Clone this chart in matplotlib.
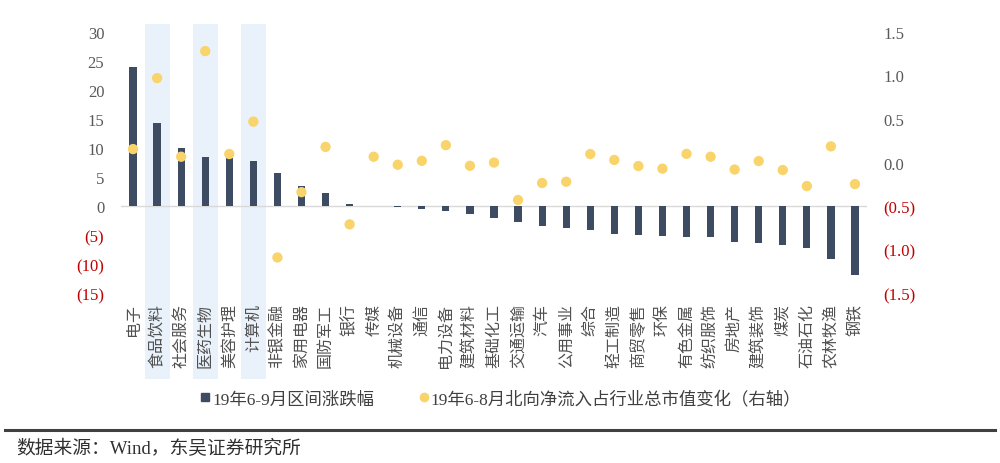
import matplotlib
matplotlib.use("Agg")
import matplotlib.pyplot as plt
from matplotlib.patches import Rectangle
from matplotlib.lines import Line2D

industries = ["电子", "食品饮料", "社会服务", "医药生物", "美容护理", "计算机", "非银金融",
              "家用电器", "国防军工", "银行", "传媒", "机械设备", "通信", "电力设备",
              "建筑材料", "基础化工", "交通运输", "汽车", "公用事业", "综合", "轻工制造",
              "商贸零售", "环保", "有色金属", "纺织服饰", "房地产", "建筑装饰", "煤炭",
              "石油石化", "农林牧渔", "钢铁"]
# 19年6-9月区间涨跌幅 (%)
price_chg = [24.0, 14.3, 10.0, 8.4, 8.2, 7.8, 5.7, 3.4, 2.2, 0.4, -0.05, -0.1, -0.5,
             -0.8, -1.4, -2.0, -2.8, -3.4, -3.85, -4.1, -4.8, -4.9, -5.1, -5.3, -5.3,
             -6.15, -6.4, -6.7, -7.3, -9.1, -11.8]
# 19年6-8月北向净流入占行业总市值变化 (右轴)
north_flow = [0.155, 0.97, 0.067, 1.28, 0.098, 0.47, -1.09, -0.34, 0.18, -0.71, 0.067,
              -0.025, 0.02, 0.2, -0.037, 0.0, -0.43, -0.235, -0.22, 0.098, 0.03, -0.04,
              -0.07, 0.1, 0.067, -0.08, 0.017, -0.086, -0.27, 0.186, -0.247]
highlight = ["食品饮料", "医药生物", "计算机"]

left_ticks = [-15, -10, -5, 0, 5, 10, 15, 20, 25, 30]
left_labels = ["(15)", "(10)", "(5)", "0", "5", "10", "15", "20", "25", "30"]
right_ticks = [-1.5, -1.0, -0.5, 0.0, 0.5, 1.0, 1.5]
right_labels = ["(1.5)", "(1.0)", "(0.5)", "0.0", "0.5", "1.0", "1.5"]

BAR = "#3d4b63"
DOT = "#f9d46b"
GREY = "#595959"
RED = "#c00000"
NUM_FONT = ["Liberation Serif", "Noto Sans CJK SC"]
CJK_FONT = ["Noto Sans CJK SC", "DejaVu Sans"]

fig = plt.figure(figsize=(10, 4.64), dpi=100)
ax = fig.add_axes([0.121, 0.366, 0.746, 0.563])
ax2 = ax.twinx()

x = list(range(len(industries)))

for name in highlight:
    i = industries.index(name)
    ax.add_patch(Rectangle((i - 0.52, -0.33), 1.04, 1.361,
                           transform=ax.get_xaxis_transform(), clip_on=False,
                           facecolor="#e9f1fa", edgecolor="none", zorder=0))

ax.axhline(0, color="#d9d9d9", lw=1, zorder=1)
ax.bar(x, price_chg, width=0.3, color=BAR, zorder=2)
ax2.scatter(x, north_flow, s=55, color=DOT, zorder=3, edgecolors="none")

ax.set_xlim(-0.5, 30.5)
ax.set_ylim(-15, 30)
ax2.set_ylim(-1.5, 1.5)

ax.set_yticks(left_ticks)
ax.set_yticklabels(left_labels, family=NUM_FONT, fontsize=12)
for t, v in zip(ax.get_yticklabels(), left_ticks):
    t.set_color(RED if v < 0 else GREY)
ax2.set_yticks(right_ticks)
ax2.set_yticklabels(right_labels, family=NUM_FONT, fontsize=12)
for t, v in zip(ax2.get_yticklabels(), right_ticks):
    t.set_color(RED if v < 0 else GREY)

ax.set_xticks(x)
ax.set_xticklabels(industries, rotation=90, va="top", ha="center",
                   family=CJK_FONT, fontsize=11.5, color="#505050")

ax.tick_params(axis="y", length=0, pad=12)
ax2.tick_params(axis="y", length=0, pad=12)
ax.tick_params(axis="x", length=0, pad=7)
for a in (ax, ax2):
    for s in a.spines.values():
        s.set_visible(False)
ax.patch.set_alpha(0)

handles = [Line2D([], [], marker="s", ls="none", color=BAR, markersize=5.5),
           Line2D([], [], marker="o", ls="none", color=DOT, markersize=6)]
labels = ["19年6-9月区间涨跌幅", "19年6-8月北向净流入占行业总市值变化（右轴）"]
fig.legend(handles, labels, loc="center", bbox_to_anchor=(0.501, 0.138), ncol=2,
           frameon=False, handlelength=0.5, handletextpad=0.15, columnspacing=2.6,
           prop={"family": NUM_FONT, "size": 12.5}, labelcolor="#404040")

fig.add_artist(Line2D([0.005, 0.995], [0.071, 0.071], color="#404040", lw=2.2))
fig.text(0.016, 0.032, "数据来源：Wind，东吴证券研究所", family=NUM_FONT,
         fontsize=13.5, color="#303030", va="center", ha="left")

fig.savefig("out.png", dpi=100, facecolor="white")
